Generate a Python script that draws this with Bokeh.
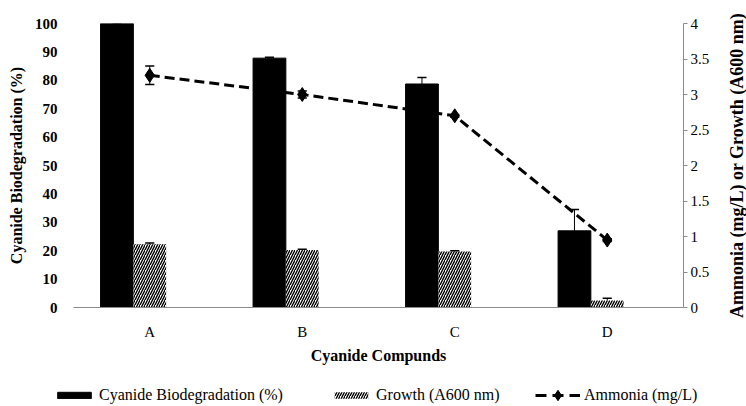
import math
from bokeh.plotting import figure
from bokeh.layouts import column, row
from bokeh.models import (Range1d, FactorRange, LinearAxis, FixedTicker, NumeralTickFormatter,
                          ColumnDataSource, Legend, LegendItem, Label)
from bokeh.transform import dodge
from bokeh.embed import file_html
from bokeh.resources import INLINE

# ---- data ----
compounds = ["A", "B", "C", "D"]
biodegradation = [100.0, 87.8, 78.7, 27.0]        # left axis, %
biodegradation_err = [0.3, 0.3, 2.3, 7.5]
growth = [0.89, 0.81, 0.79, 0.10]                  # right axis, A600 nm
growth_err = [0.02, 0.01, 0.01, 0.03]
ammonia = [3.27, 3.00, 2.70, 0.95]                 # right axis, mg/L
ammonia_err = [0.13, 0.05, 0.02, 0.02]
left_ticks = [0, 10, 20, 30, 40, 50, 60, 70, 80, 90, 100]
right_ticks = [0, 0.5, 1, 1.5, 2, 2.5, 3, 3.5, 4]
series_labels = ["Cyanide Biodegradation (%)", "Growth (A600 nm)", "Ammonia (mg/L)"]
right_title = "Ammonia (mg/L) or Growth (A600 nm)"

FONT = "Liberation Serif"
BAR_W = 0.215
CAP = 0.03
AXIS_GRAY = "#8a8a8a"
BLACK_BAR = dict(fill_color="black", line_color="black")
HATCH = dict(fill_color="white", line_color=None, hatch_pattern="/",
             hatch_color="black", hatch_scale=5, hatch_weight=1.4)
DASH = dict(line_width=3, line_dash="10 5", line_color="black")

src = ColumnDataSource(dict(
    x=compounds,
    biodeg=biodegradation,
    biodeg_hi=[v + e for v, e in zip(biodegradation, biodegradation_err)],
    growth=growth,
    growth_hi=[v + e for v, e in zip(growth, growth_err)],
    amm=ammonia,
    amm_lo=[v - e for v, e in zip(ammonia, ammonia_err)],
    amm_hi=[v + e for v, e in zip(ammonia, ammonia_err)],
))


def bare(fig):
    fig.outline_line_color = None
    fig.xgrid.visible = False
    fig.ygrid.visible = False
    if "frame_align" in fig.properties():
        fig.frame_align = False


p = figure(x_range=FactorRange(*compounds), y_range=Range1d(0, 100),
           width=726, height=376, output_backend="svg", toolbar_location=None,
           min_border_left=73, min_border_right=43, min_border_top=23, min_border_bottom=69)
p.extra_y_ranges = {"right": Range1d(0, 4)}
p.outline_line_color = None
p.xgrid.visible = False
p.ygrid.visible = False

# x axis
xa = p.xaxis[0]
xa.axis_line_color = AXIS_GRAY
xa.major_tick_line_color = None
xa.minor_tick_line_color = None
xa.major_tick_out = 0
xa.major_label_standoff = 16
xa.major_label_text_font = FONT
xa.major_label_text_font_size = "15px"
xa.major_label_text_color = "black"
xa.axis_label = "Cyanide Compunds"
xa.axis_label_text_font = FONT
xa.axis_label_text_font_style = "bold"
xa.axis_label_text_font_size = "16px"
xa.axis_label_standoff = 4
xa.axis_label_text_color = "black"

# left axis
ya = p.yaxis[0]
ya.ticker = FixedTicker(ticks=left_ticks)
ya.axis_line_color = None
ya.major_tick_line_color = None
ya.minor_tick_line_color = None
ya.major_tick_out = 0
ya.major_tick_in = 0
ya.major_label_standoff = 16
ya.major_label_text_font = FONT
ya.major_label_text_font_style = "bold"
ya.major_label_text_font_size = "15px"
ya.major_label_text_color = "black"
ya.axis_label = "Cyanide Biodegradation (%)"
ya.axis_label_text_font = FONT
ya.axis_label_text_font_style = "bold"
ya.axis_label_text_font_size = "16px"
ya.axis_label_standoff = 7
ya.axis_label_text_color = "black"

# right axis
ra = LinearAxis(y_range_name="right", ticker=FixedTicker(ticks=right_ticks),
                formatter=NumeralTickFormatter(format="0.[0]"))
ra.axis_line_color = AXIS_GRAY
ra.major_tick_line_color = AXIS_GRAY
ra.minor_tick_line_color = None
ra.major_tick_out = 4
ra.major_tick_in = 0
ra.major_label_standoff = 3
ra.major_label_text_font = FONT
ra.major_label_text_font_size = "15px"
ra.major_label_text_color = "black"
p.add_layout(ra, "right")

# ammonia line (drawn first so bars hide it)
p.line(x="x", y="amm", source=src, y_range_name="right", **DASH)
p.scatter(x="x", y="amm", source=src, y_range_name="right",
          marker="diamond", size=14, color="black")

# bars
p.vbar(x=dodge("x", -BAR_W, range=p.x_range), top="biodeg", width=BAR_W,
       source=src, **BLACK_BAR)
p.vbar(x="x", top="growth", width=BAR_W, source=src, y_range_name="right", **HATCH)

# error bars
p.segment(x0=dodge("x", -BAR_W, range=p.x_range), y0="biodeg",
          x1=dodge("x", -BAR_W, range=p.x_range), y1="biodeg_hi", source=src,
          line_color="black", line_width=1)
p.segment(x0=dodge("x", -BAR_W - CAP, range=p.x_range), y0="biodeg_hi",
          x1=dodge("x", -BAR_W + CAP, range=p.x_range), y1="biodeg_hi", source=src,
          line_color="black", line_width=1.5)
p.segment(x0="x", y0="growth", x1="x", y1="growth_hi", source=src, y_range_name="right",
          line_color="black", line_width=1)
p.segment(x0=dodge("x", -CAP, range=p.x_range), y0="growth_hi",
          x1=dodge("x", CAP, range=p.x_range), y1="growth_hi", source=src,
          y_range_name="right", line_color="black", line_width=1.5)
p.segment(x0="x", y0="amm_lo", x1="x", y1="amm_hi", source=src, y_range_name="right",
          line_color="black", line_width=1)
for col in ("amm_lo", "amm_hi"):
    p.segment(x0=dodge("x", -CAP, range=p.x_range), y0=col,
              x1=dodge("x", CAP, range=p.x_range), y1=col, source=src,
              y_range_name="right", line_color="black", line_width=1.5)

# ---- narrow strip on the right holding the right-axis title (reads bottom to top) ----
tf = figure(width=20, height=376, output_backend="svg", toolbar_location=None,
            x_range=Range1d(0, 1), y_range=Range1d(0, 1),
            x_axis_location=None, y_axis_location=None,
            min_border_left=0, min_border_right=0, min_border_top=0, min_border_bottom=0)
bare(tf)
tf.add_layout(Label(x=10, y=211, x_units="screen", y_units="screen", text=right_title,
                    angle=math.pi / 2, text_align="center", text_baseline="middle",
                    text_font=FONT, text_font_style="bold", text_font_size="18px",
                    text_color="black"))

# ---- legend strip below the chart ----
lf = figure(width=746, height=30, output_backend="svg", toolbar_location=None,
            x_range=FactorRange(*compounds), y_range=Range1d(1000, 2000),
            x_axis_location=None, y_axis_location=None,
            min_border_left=0, min_border_right=0, min_border_top=0, min_border_bottom=0)
bare(lf)
# legend proxies: same data, but outside this strip's visible y range
k1 = lf.vbar(x="x", top="biodeg", width=BAR_W, source=src, **BLACK_BAR)
k2 = lf.vbar(x="x", top="growth", width=BAR_W, source=src, **HATCH)
k3 = lf.line(x="x", y="amm", source=src, line_width=3, line_dash="11 6", line_color="black")
k4 = lf.scatter(x="x", y="amm", source=src, marker="diamond", size=12, color="black")


def make_legend(label, renderers, x, y, gw, gh):
    lg = Legend(items=[LegendItem(label=label, renderers=renderers)],
                location=(x, y), orientation="horizontal")
    lg.border_line_color = None
    lg.background_fill_alpha = 0
    lg.padding = 0
    lg.margin = 0
    lg.glyph_width = gw
    lg.glyph_height = gh
    lg.label_height = 20
    lg.label_standoff = 4
    lg.label_text_font = FONT
    lg.label_text_font_size = "16px"
    lg.label_text_color = "black"
    return lg


lf.add_layout(make_legend(series_labels[0], [k1], 53, 1, 42, 8))
lf.add_layout(make_legend(series_labels[1], [k2], 330, 1, 42, 8))
lf.add_layout(make_legend(series_labels[2], [k3, k4], 535, -2, 45, 26))

open("out.html", "w").write(file_html(column(row(p, tf), lf), INLINE))
